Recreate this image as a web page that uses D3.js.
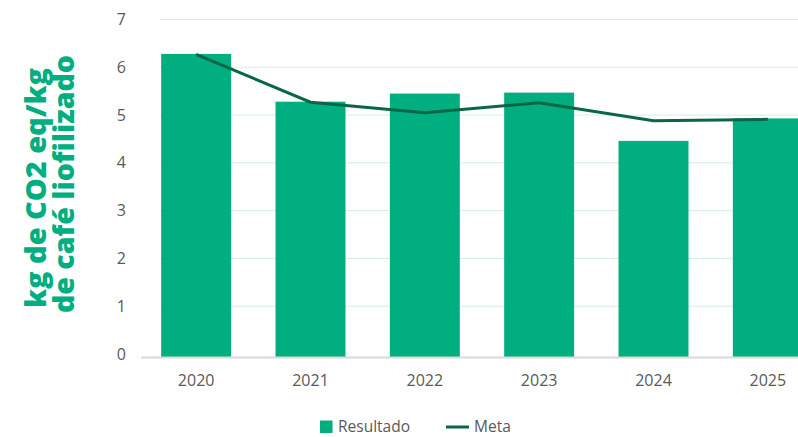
<!DOCTYPE html>
<html><head><meta charset="utf-8">
<script src="https://cdn.jsdelivr.net/npm/d3@7"></script>
<style>body{margin:0;background:#fff}svg{display:block}</style>
</head><body>
<script>
const years = ["2020","2021","2022","2023","2024","2025"];
const resultado = [6.28, 5.28, 5.45, 5.47, 4.46, 4.93];
const meta = [6.27, 5.27, 5.05, 5.26, 4.88, 4.91];
const yTicks = [0,1,2,3,4,5,6,7];

const W = 798, H = 437;
const svg = d3.select("body").append("svg").attr("width", W).attr("height", H);
const font = "'Open Sans', sans-serif";
const barColor = "#00AE7F", lineColor = "#0B6646";

const x = d3.scaleBand().domain(years).range([139, 825]).paddingInner(0.388).paddingOuter(0.194);
const y = d3.scaleLinear().domain([0, 7]).range([354, 19.5]);

// grid
svg.append("g").selectAll("line").data(yTicks.filter(d => d > 0)).join("line")
  .attr("x1", 160).attr("x2", 798)
  .attr("y1", d => y(d)).attr("y2", d => y(d))
  .attr("stroke", "#d6ece4").attr("stroke-width", 1);

// y tick labels
svg.append("g").selectAll("text").data(yTicks).join("text")
  .attr("x", 126).attr("y", d => y(d)).attr("dy", "0.35em")
  .attr("text-anchor", "end").attr("font-family", font).attr("font-size", 16)
  .attr("fill", "#595959").text(d => d);

// bars
svg.append("g").selectAll("rect").data(years).join("rect")
  .attr("x", d => x(d)).attr("width", x.bandwidth())
  .attr("y", (d, i) => y(resultado[i])).attr("height", (d, i) => y(0) - y(resultado[i]) + 4)
  .attr("fill", barColor);

// baseline
svg.append("line").attr("x1", 141).attr("x2", 798).attr("y1", 357.5).attr("y2", 357.5)
  .attr("stroke", "#d9d9d9").attr("stroke-width", 2);

// meta line
const line = d3.line().x((d, i) => x(years[i]) + x.bandwidth() / 2).y(d => y(d));
svg.append("path").datum(meta).attr("d", line).attr("fill", "none")
  .attr("stroke", lineColor).attr("stroke-width", 3);

// x labels
svg.append("g").selectAll("text").data(years).join("text")
  .attr("x", d => x(d) + x.bandwidth() / 2).attr("y", 380).attr("dy", "0.35em")
  .attr("text-anchor", "middle").attr("font-family", font).attr("font-size", 16)
  .attr("fill", "#595959").text(d => d);

// y title
const tg = svg.append("g").attr("font-family", font).attr("font-weight", 800)
  .attr("font-size", 28).attr("fill", barColor).attr("text-anchor", "middle");
tg.append("text").attr("transform", "translate(46,188) rotate(-90)")
  .attr("textLength", 240).attr("lengthAdjust", "spacingAndGlyphs").text("kg de CO2 eq/kg");
tg.append("text").attr("transform", "translate(74,184) rotate(-90)")
  .attr("textLength", 258).attr("lengthAdjust", "spacingAndGlyphs").text("de café liofilizado");

// legend
const lg = svg.append("g").attr("font-family", font).attr("font-size", 15.5).attr("fill", "#595959");
lg.append("rect").attr("x", 320).attr("y", 420.5).attr("width", 12.5).attr("height", 12.5).attr("fill", barColor);
lg.append("text").attr("x", 338).attr("y", 432).text("Resultado");
lg.append("line").attr("x1", 446).attr("x2", 469).attr("y1", 427).attr("y2", 427).attr("stroke", lineColor).attr("stroke-width", 3);
lg.append("text").attr("x", 474).attr("y", 432).text("Meta");
</script>
</body></html>
